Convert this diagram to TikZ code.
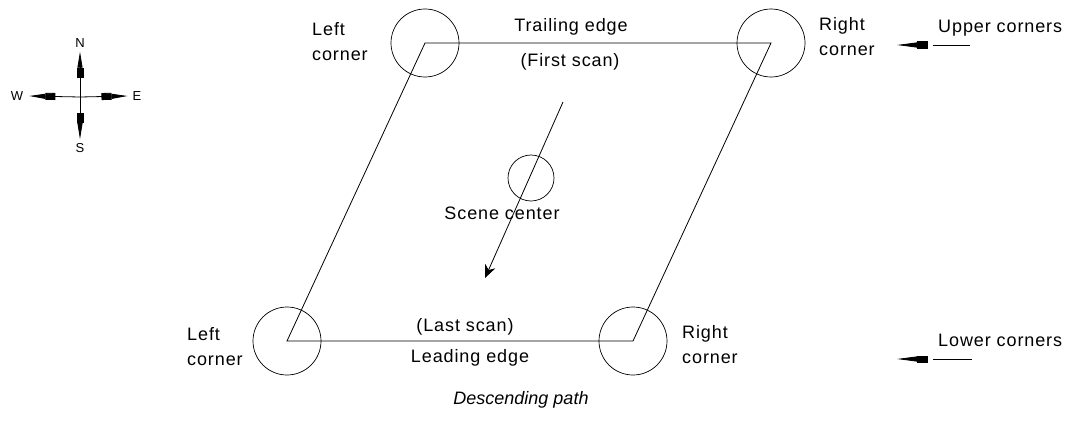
\documentclass[tikz,border=0pt]{standalone}
\usepackage{fontspec}
\setmainfont{Liberation Sans}
\usepackage{tikz}
\usetikzlibrary{positioning, arrows.meta, calc}

\begin{document}
\begin{tikzpicture}[
  x=1pt, y=-1pt,
  font=\fontsize{18}{25}\selectfont\addfontfeature{LetterSpace=5},
  every node/.style={inner sep=0pt},
  edge/.style={line width=0.8pt},
  cornerring/.style={circle, draw, line width=0.7pt, minimum size=68pt},
  centerring/.style={circle, draw, line width=0.7pt, minimum size=46pt},
  lbl/.style={align=left, anchor=west},
  edgelbl/.style={align=center},
  pathdir/.style={-{Stealth[length=13pt,width=11pt]}, line width=0.8pt},
  comp/.style={-{Rectangle[length=10pt,width=7pt]Triangle[length=16pt,width=5pt]}, line width=0.8pt},
  callout/.style={-{Rectangle[length=11pt,width=7pt]Triangle[length=20pt,width=5pt]}, line width=0.8pt},
  dir/.style={font=\fontsize{13}{15}\selectfont}
]
\useasboundingbox (0,0) rectangle (1075,420);

% scene corners
\coordinate (UL) at (425,43);
\coordinate (UR) at (771,43);
\coordinate (LL) at (287,341);
\coordinate (LR) at (633,341);

\draw[edge] (UL) -- (UR) -- (LR) -- (LL) -- cycle;
\node[cornerring] (ulr) at (UL) {};
\node[cornerring] (urr) at (UR) {};
\node[cornerring] (llr) at (LL) {};
\node[cornerring] (lrr) at (LR) {};
\node[centerring] (scr) at (531,178) {};

% corner labels
\node[lbl] (ultxt) at (312,42) {Left\\corner};
\node[lbl] (urtxt) at (819,37) {Right\\corner};
\node[lbl] (lltxt) at (187,347) {Left\\corner};
\node[lbl] (lrtxt) at (682,345) {Right\\corner};

% edge labels
\node[edgelbl] (trail) at (571,27) {Trailing edge};
\node[edgelbl] (first) at (570,62) {(First scan)};
\node[edgelbl] (last) at (465,327) {(Last scan)};
\node[edgelbl] (lead) at (470,358) {Leading edge};
\node[edgelbl] (scene) at (502,213) {Scene center};
\node[edgelbl, font=\fontsize{18}{25}\selectfont\itshape] (desc) at (521,400) {Descending path};

% flight direction
\coordinate (pstart) at (563,102);
\coordinate (pend) at (485,278);
\draw[pathdir] (pstart) -- (pend);

% upper / lower corner call-outs
\node[lbl] (upper) at (938,28) {Upper corners};
\node[lbl] (lower) at (938,340) {Lower corners};
\coordinate (utip) at (897,45);
\coordinate (ltip) at (897,359);
\draw[callout] ($(utip)+(31,0)$) -- (utip);
\draw[edge] ($(utip)+(36,0)$) -- ($(utip)+(73,0)$);
\draw[callout] ($(ltip)+(31,0)$) -- (ltip);
\draw[edge] ($(ltip)+(36,0)$) -- ($(ltip)+(75,0)$);

% compass
\coordinate (O) at (80,97);
\node[dir] (N) at (80,43) {N};
\node[dir] (S) at (80,148) {S};
\node[dir] (W) at (17,96) {W};
\node[dir] (E) at (137,96) {E};
\draw[comp] (O) -- ([yshift=-4pt]N.south);
\draw[comp] (O) -- ([yshift=4pt]S.north);
\draw[comp] (O) -- ([xshift=6pt]W.east);
\draw[comp] (O) -- ([xshift=-5pt]E.west);
\end{tikzpicture}
\end{document}
